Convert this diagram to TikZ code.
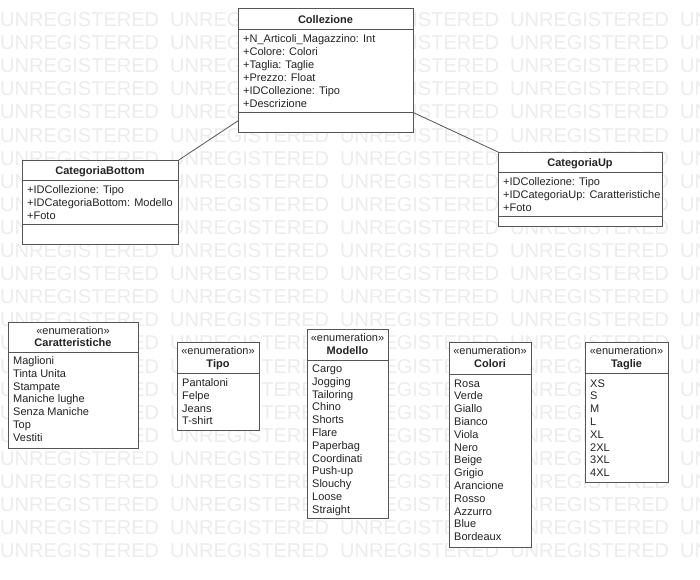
\documentclass[tikz,border=0pt]{standalone}
\usepackage{fontspec}
\setmainfont{Liberation Sans}
\usetikzlibrary{calc}
\definecolor{wm}{RGB}{236,236,236}
\definecolor{ln}{RGB}{85,85,85}
\definecolor{tx}{RGB}{35,35,35}
\newcommand{\wmword}{\makebox[170pt][l]{UNREGISTERED}}
\begin{document}
\begin{tikzpicture}[x=1pt,y=-1pt,
  box/.style={draw=ln, fill=white, line width=0.8pt, anchor=north west, inner sep=0pt},
  txt/.style={anchor=base west, inner sep=0pt, text=tx, font=\fontsize{11}{13}\selectfont},
  ttl/.style={anchor=base, inner sep=0pt, text=tx, font=\fontsize{11}{13}\selectfont\bfseries},
  ster/.style={anchor=base, inner sep=0pt, text=tx, font=\fontsize{11}{13}\selectfont},
  sep/.style={draw=ln, line width=0.8pt},
  conn/.style={draw=ln, line width=0.8pt},
  wmark/.style={anchor=base west, inner sep=0pt, text=wm, font=\fontsize{20}{24}\selectfont}]
\useasboundingbox (0,0) rectangle (700,579);
\begin{scope}
\clip (0,0) rectangle (700,579);
\foreach \r in {0,...,23}
  \node[wmark] (wm\r) at (0,{26.5+23.1*\r}) {\wmword\wmword\wmword\wmword\wmword};
\end{scope}

% Collezione
\node[box, minimum width=175pt, minimum height=124pt] (coll) at (238,8) {};
\node[ttl] (colltitle) at (325.5,23.5) {Collezione};
\draw[sep] (238,29) -- (413,29);
\foreach \t [count=\i from 0] in {+N\_Articoli\_Magazzino: Int,+Colore: Colori,+Taglia: Taglie,+Prezzo: Float,+IDCollezione: Tipo,+Descrizione}
  \node[txt] (colla\i) at (243,{42+13*\i}) {\t};
\draw[sep] (238,112) -- (413,112);

% CategoriaBottom
\node[box, minimum width=156pt, minimum height=84pt] (cbot) at (22,160) {};
\node[ttl] (cbottitle) at (100,174) {CategoriaBottom};
\draw[sep] (22,180) -- (178,180);
\foreach \t [count=\i from 0] in {+IDCollezione: Tipo,+IDCategoriaBottom: Modello,+Foto}
  \node[txt] (cbota\i) at (27,{193+13*\i}) {\t};
\draw[sep] (22,224) -- (178,224);

% CategoriaUp
\node[box, minimum width=164pt, minimum height=74pt] (cup) at (498,152) {};
\node[ttl] (cuptitle) at (580,166) {CategoriaUp};
\draw[sep] (498,172) -- (662,172);
\foreach \t [count=\i from 0] in {+IDCollezione: Tipo,+IDCategoriaUp: Caratteristiche,+Foto}
  \node[txt] (cupa\i) at (503,{185+13*\i}) {\t};
\draw[sep] (498,216) -- (662,216);

% connectors
\draw[conn] ($(coll.south west)+(0,-12)$) -- (cbot.north east);
\draw[conn] ($(coll.south east)+(0,-20)$) -- (cup.north west);

% Caratteristiche
\node[box, minimum width=130pt, minimum height=126pt] (car) at (8,322) {};
\node[ster] (carst) at (73,334) {«enumeration»};
\node[ttl] (cartitle) at (73,346.5) {Caratteristiche};
\draw[sep] (8,352) -- (138,352);
\foreach \t [count=\i from 0] in {Maglioni,Tinta Unita,Stampate,Maniche lughe,Senza Maniche,Top,Vestiti}
  \node[txt] (cari\i) at (13,{364.5+12.8*\i}) {\t};

% Tipo
\node[box, minimum width=82pt, minimum height=88pt] (tipo) at (177,342) {};
\node[ster] (tipost) at (218,354) {«enumeration»};
\node[ttl] (tipotitle) at (218,367) {Tipo};
\draw[sep] (177,373) -- (259,373);
\foreach \t [count=\i from 0] in {Pantaloni,Felpe,Jeans,T-shirt}
  \node[txt] (tipoi\i) at (182,{386.5+12.8*\i}) {\t};

% Modello
\node[box, minimum width=81pt, minimum height=189pt] (mod) at (307,329) {};
\node[ster] (modst) at (347.5,341.5) {«enumeration»};
\node[ttl] (modtitle) at (347.5,354) {Modello};
\draw[sep] (307,360) -- (388,360);
\foreach \t [count=\i from 0] in {Cargo,Jogging,Tailoring,Chino,Shorts,Flare,Paperbag,Coordinati,Push-up,Slouchy,Loose,Straight}
  \node[txt] (modi\i) at (312,{372.5+12.8*\i}) {\t};

% Colori
\node[box, minimum width=82pt, minimum height=205pt] (colo) at (449,342) {};
\node[ster] (colost) at (490,354) {«enumeration»};
\node[ttl] (colotitle) at (490,367) {Colori};
\draw[sep] (449,374) -- (531,374);
\foreach \t [count=\i from 0] in {Rosa,Verde,Giallo,Bianco,Viola,Nero,Beige,Grigio,Arancione,Rosso,Azzurro,Blue,Bordeaux}
  \node[txt] (coloi\i) at (454,{387+12.8*\i}) {\t};

% Taglie
\node[box, minimum width=83pt, minimum height=140pt] (tag) at (585,342) {};
\node[ster] (tagst) at (626.5,354) {«enumeration»};
\node[ttl] (tagtitle) at (626.5,367) {Taglie};
\draw[sep] (585,373) -- (668,373);
\foreach \t [count=\i from 0] in {XS,S,M,L,XL,2XL,3XL,4XL}
  \node[txt] (tagi\i) at (590,{387+12.8*\i}) {\t};
\end{tikzpicture}
\end{document}
